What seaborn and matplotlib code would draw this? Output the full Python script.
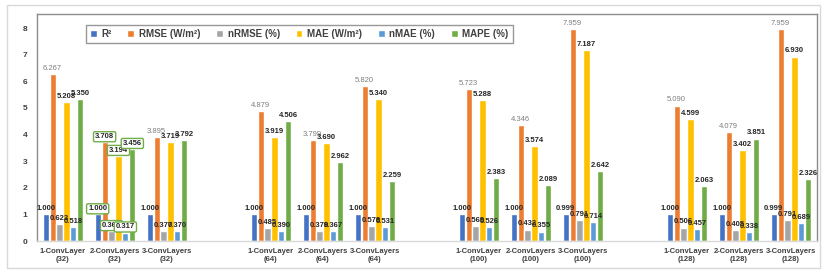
import matplotlib
matplotlib.use('Agg')
import matplotlib.pyplot as plt
from matplotlib.patches import Rectangle
import pandas as pd
import seaborn as sns

# models (groups of conv layers with filter count)
models = ['1-ConvLayer\n(32)', '2-ConvLayers\n(32)', '3-ConvLayers\n(32)',
          '1-ConvLayer\n(64)', '2-ConvLayers\n(64)', '3-ConvLayers\n(64)',
          '1-ConvLayer\n(100)', '2-ConvLayers\n(100)', '3-ConvLayers\n(100)',
          '1-ConvLayer\n(128)', '2-ConvLayers\n(128)', '3-ConvLayers\n(128)']
# empty slots between the filter-size blocks
gaps = [' ', '  ', '   ']

metrics = ['R²', 'RMSE (W/m²)', 'nRMSE (%)', 'MAE (W/m²)', 'nMAE (%)', 'MAPE (%)']

r2 = [1.000, 1.000, 1.000, 1.000, 1.000, 1.000, 1.000, 1.000, 0.999, 1.000, 1.000, 0.999]
rmse = [6.267, 3.708, 3.895, 4.879, 3.799, 5.820, 5.723, 4.346, 7.959, 5.090, 4.079, 7.959]
nrmse = [0.623, 0.369, 0.377, 0.485, 0.378, 0.578, 0.569, 0.432, 0.791, 0.506, 0.405, 0.791]
mae = [5.208, 3.194, 3.719, 3.919, 3.690, 5.340, 5.288, 3.574, 7.187, 4.599, 3.402, 6.930]
nmae = [0.518, 0.317, 0.370, 0.390, 0.367, 0.531, 0.526, 0.355, 0.714, 0.457, 0.338, 0.689]
mape = [5.350, 3.456, 3.792, 4.506, 2.962, 2.259, 2.383, 2.089, 2.642, 2.063, 3.851, 2.326]

colors = ['#4472C4', '#ED7D31', '#A5A5A5', '#FFC000', '#5B9BD5', '#70AD47']

series = [r2, rmse, nrmse, mae, nmae, mape]
df = pd.DataFrame({
    'Model': models * len(metrics),
    'Metric': [m for m in metrics for _ in models],
    'Value': [v for s in series for v in s],
})

order = models[0:3] + [gaps[0]] + models[3:6] + [gaps[1]] + models[6:9] + [gaps[2]] + models[9:12]

sns.set_theme(style='white')
plt.rcParams['font.family'] = ['Liberation Sans', 'DejaVu Sans']

fig = plt.figure(figsize=(8.25, 2.75), dpi=100)
ax = fig.add_axes([37 / 825, 1 - 241 / 275, 780 / 825, 227 / 275])

sns.barplot(data=df, x='Model', y='Value', hue='Metric', order=order,
            hue_order=metrics, palette=colors, width=0.8, gap=0.12,
            saturation=1, ax=ax)

# data labels
for i, cont in enumerate(ax.containers):
    if i == 1:
        texts = ax.bar_label(cont, fmt='%.3f', padding=1.5, fontsize=5.5,
                             color='#7F7F7F')
    else:
        texts = ax.bar_label(cont, fmt='%.3f', padding=1.5, fontsize=5.5,
                             fontweight='bold', color='#262626')
    # the second group had its labels selected in the source sheet
    sel = texts[1]
    sel.set_color('#262626')
    sel.set_fontweight('bold')
    sel.set_bbox(dict(boxstyle='round,pad=0.2', fc='white', ec='#70AD47', lw=1.0))

ax.set_ylim(0, 8.53)
ax.set_yticks(range(0, 9))
ax.set_xlim(-0.5, len(order) - 0.5)
ax.set_xlabel('')
ax.set_ylabel('')
ax.tick_params(axis='y', labelsize=6, colors='#404040', length=0, pad=7)
ax.tick_params(axis='x', labelsize=5.5, colors='#404040', length=0, pad=5)
for lab in ax.get_xticklabels() + ax.get_yticklabels():
    lab.set_fontweight('bold')

for side in ['top', 'left', 'right']:
    ax.spines[side].set_color('#8C8C8C')
    ax.spines[side].set_linewidth(1.0)
ax.spines['bottom'].set_color('#D9D9D9')
ax.spines['bottom'].set_linewidth(1.0)

leg = ax.legend(loc='upper left', bbox_to_anchor=(0.056, 0.975), ncol=6,
                fontsize=7, frameon=True, fancybox=False, edgecolor='#7F7F7F',
                handlelength=0.7, handleheight=0.7, handletextpad=0.5,
                columnspacing=1.6, borderpad=0.45)
leg.get_frame().set_linewidth(1.0)
for t in leg.get_texts():
    t.set_fontweight('bold')
    t.set_color('#404040')

# outer chart-area frame
fig.patches.append(Rectangle((7 / 825, 1 - 268 / 275), 813 / 825, 263 / 275,
                             transform=fig.transFigure, fill=False,
                             ec='#D9D9D9', lw=1.0))

fig.savefig('out.png', dpi=100)
